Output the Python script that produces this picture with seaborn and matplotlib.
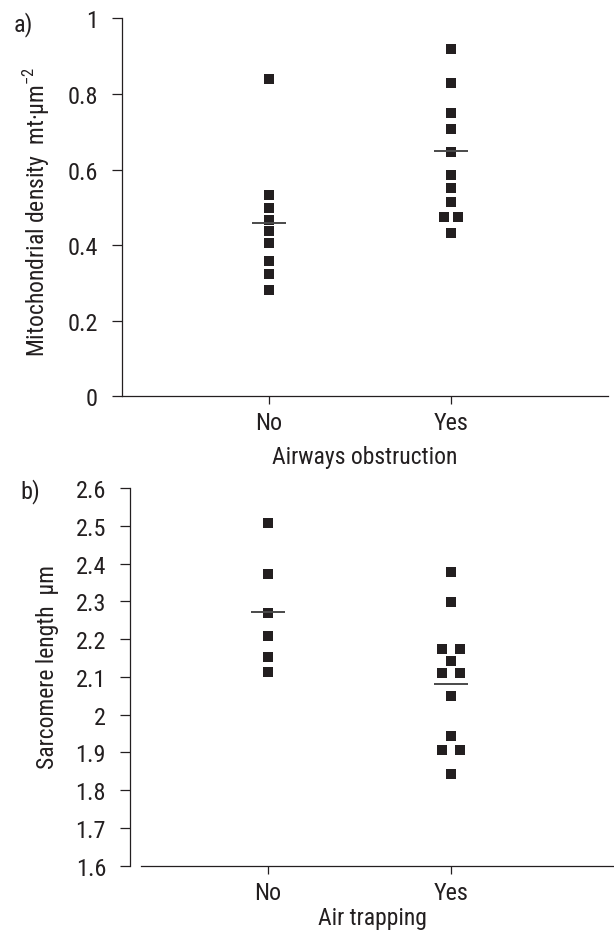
#!/usr/bin/env python3

import numpy as np
import pandas as pd
import matplotlib
matplotlib.use("Agg")
import matplotlib.pyplot as plt
import seaborn as sns

# values
groups = ["No", "Yes"]

mito_no = [0.840, 0.532, 0.498, 0.466, 0.437, 0.406, 0.358, 0.324, 0.281]
mito_yes = [0.919, 0.829, 0.749, 0.707, 0.646, 0.585, 0.551, 0.514, 0.474, 0.474, 0.432]
mito_means = [0.458, 0.649]

sarc_no = [2.507, 2.372, 2.270, 2.209, 2.152, 2.112]
sarc_yes = [2.378, 2.298, 2.174, 2.174, 2.142, 2.111, 2.111, 2.050, 1.943, 1.907, 1.907, 1.843]
sarc_means = [2.272, 2.081]

mito_ticks = [0, 0.2, 0.4, 0.6, 0.8, 1]
sarc_ticks = [1.6, 1.7, 1.8, 1.9, 2.0, 2.1, 2.2, 2.3, 2.4, 2.5, 2.6]

INK = "#231f20"
FONT = ["Roboto Condensed", "Roboto", "DejaVu Sans"]
FS = 17.5
W, H = 614, 937


def build_frame(values_by_group, dodge):
    """Long table with a numeric x; tied values get spread around the group centre."""
    rows = []
    for i, vals in enumerate(values_by_group):
        s = pd.Series(vals)
        for val, idx in s.groupby(s.round(3)).groups.items():
            n = len(idx)
            offs = (np.arange(n) - (n - 1) / 2) * dodge
            for o in offs:
                rows.append({"group": groups[i], "x": i + o, "value": val})
    return pd.DataFrame(rows)


def px_rect(left, top, right, bottom):
    return [left / W, 1 - bottom / H, (right - left) / W, (bottom - top) / H]


def draw_panel(ax, df, means, ticks, ylabel, xlabel):
    sns.scatterplot(data=df, x="x", y="value", marker="s", s=46, color=INK,
                    linewidth=0, ax=ax, zorder=3, legend=False)
    for i, m in enumerate(means):
        ax.hlines(m, i - 0.095, i + 0.095, color="#4a4a4a", lw=1.4, zorder=4)
    ax.set_xticks(range(len(groups)))
    ax.set_xticklabels(groups)
    ax.set_yticks(ticks)
    ax.set_yticklabels([f"{t:g}" for t in ticks])
    ax.set_ylim(ticks[0], ticks[-1])
    ax.set_ylabel(ylabel)
    ax.set_xlabel(xlabel)
    sns.despine(ax=ax)
    ax.tick_params(axis="y", length=7.2, width=0.9, pad=10, colors=INK, labelsize=FS)
    ax.tick_params(axis="x", length=5.8, width=0.9, pad=5, colors=INK, labelsize=FS)
    for sp in ("left", "bottom"):
        ax.spines[sp].set_linewidth(0.9)
        ax.spines[sp].set_color(INK)


def main():
    sns.set_style("ticks")
    plt.rcParams["font.family"] = FONT
    plt.rcParams["mathtext.fontset"] = "custom"
    plt.rcParams["mathtext.rm"] = "Roboto Condensed"
    plt.rcParams["text.color"] = INK
    plt.rcParams["axes.labelcolor"] = INK
    plt.rcParams["axes.labelsize"] = 17

    fig = plt.figure(figsize=(W / 100, H / 100), dpi=100)

    # a) mitochondrial density
    ax_a = fig.add_axes(px_rect(122, 19.3, 608, 397.3))
    df_a = build_frame([mito_no, mito_yes], 0.077)
    draw_panel(ax_a, df_a, mito_means, mito_ticks,
               "Mitochondrial density  mt\u00b7\u00b5m$^{\\mathrm{-2}}$", "Airways obstruction")
    ax_a.set_xlim(-0.808, 1.863)
    ax_a.yaxis.set_label_coords(-0.145, 0.49)
    ax_a.xaxis.set_label_coords(0.5, -0.13)

    # b) sarcomere length
    ax_b = fig.add_axes(px_rect(130, 489, 614, 866.7))
    df_b = build_frame([sarc_no, sarc_yes], 0.096)
    draw_panel(ax_b, df_b, sarc_means, sarc_ticks,
               "Sarcomere length  \u00b5m", "Air trapping")
    ax_b.set_xlim(-0.754, 1.891)
    ax_b.spines["bottom"].set_bounds(-0.694, 1.891)
    ax_b.yaxis.set_label_coords(-0.147, 0.53)
    ax_b.xaxis.set_label_coords(0.5, -0.108)

    fig.text(23 / W, 1 - 25 / H, "a)", ha="center", va="center", fontsize=FS)
    fig.text(30 / W, 1 - 492 / H, "b)", ha="center", va="center", fontsize=FS)

    fig.savefig("out.png", dpi=100)


if __name__ == "__main__":
    main()
